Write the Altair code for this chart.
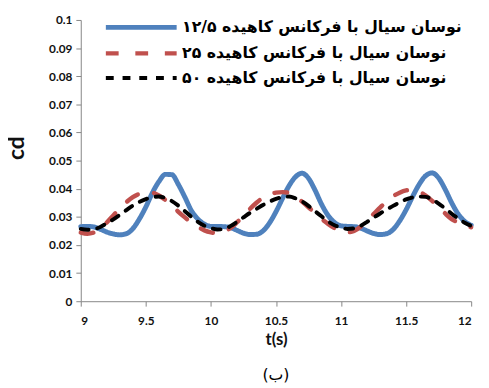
import altair as alt
import pandas as pd

t = [9.00, 9.05, 9.10, 9.15, 9.20, 9.25, 9.30, 9.35, 9.40, 9.45, 9.50, 9.55, 9.60, 9.65, 9.70, 9.75, 9.80, 9.85, 9.90, 9.95,
     10.00, 10.05, 10.10, 10.15, 10.20, 10.25, 10.30, 10.35, 10.40, 10.45, 10.50, 10.55, 10.60, 10.65, 10.70, 10.75, 10.80, 10.85, 10.90, 10.95,
     11.00, 11.05, 11.10, 11.15, 11.20, 11.25, 11.30, 11.35, 11.40, 11.45, 11.50, 11.55, 11.60, 11.65, 11.70, 11.75, 11.80, 11.85, 11.90, 11.95,
     12.00]

blue = [0.0265, 0.0266, 0.0264, 0.0256, 0.0246, 0.0239, 0.0236, 0.0240, 0.0258, 0.0292, 0.0335, 0.0385, 0.0425, 0.0451, 0.0450, 0.0415, 0.0370, 0.0322, 0.0292, 0.0274,
        0.0266, 0.0266, 0.0265, 0.0262, 0.0252, 0.0242, 0.0237, 0.0238, 0.0250, 0.0278, 0.0318, 0.0365, 0.0410, 0.0442, 0.0455, 0.0437, 0.0395, 0.0345, 0.0305, 0.0280,
        0.0268, 0.0266, 0.0265, 0.0260, 0.0250, 0.0241, 0.0237, 0.0240, 0.0255, 0.0285, 0.0325, 0.0372, 0.0415, 0.0446, 0.0456, 0.0438, 0.0398, 0.0350, 0.0310, 0.0284,
        0.0270]

red = [0.0244, 0.0240, 0.0244, 0.0258, 0.0280, 0.0305, 0.0330, 0.0352, 0.0370, 0.0382, 0.0388, 0.0386, 0.0376, 0.0360, 0.0340, 0.0318, 0.0298, 0.0280, 0.0264, 0.0252,
       0.0245, 0.0242, 0.0248, 0.0260, 0.0280, 0.0303, 0.0328, 0.0350, 0.0368, 0.0380, 0.0386, 0.0388, 0.0385, 0.0372, 0.0354, 0.0334, 0.0313, 0.0293, 0.0275, 0.0260,
       0.0250, 0.0245, 0.0250, 0.0265, 0.0288, 0.0310, 0.0333, 0.0355, 0.0373, 0.0386, 0.0394, 0.0396, 0.0390, 0.0376, 0.0357, 0.0335, 0.0312, 0.0292, 0.0280, 0.0270,
       0.0263]

black = [0.0257, 0.0254, 0.0256, 0.0264, 0.0277, 0.0291, 0.0307, 0.0324, 0.0340, 0.0353, 0.0363, 0.0370, 0.0372, 0.0367, 0.0356, 0.0340, 0.0320, 0.0300, 0.0282, 0.0268,
         0.0260, 0.0255, 0.0257, 0.0267, 0.0282, 0.0298, 0.0314, 0.0328, 0.0342, 0.0354, 0.0364, 0.0370, 0.0372, 0.0366, 0.0355, 0.0339, 0.0320, 0.0302, 0.0284, 0.0270,
         0.0262, 0.0257, 0.0259, 0.0268, 0.0282, 0.0297, 0.0312, 0.0326, 0.0339, 0.0351, 0.0362, 0.0369, 0.0372, 0.0371, 0.0362, 0.0347, 0.0330, 0.0311, 0.0294, 0.0279,
         0.0268]

names = ["نوسان سیال با فرکانس کاهیده ۱۲/۵",
         "نوسان سیال با فرکانس کاهیده ۲۵",
         "نوسان سیال با فرکانس کاهیده ۵۰"]
colors = ["#4F81BD", "#C0504D", "#000000"]
dashes = [[1, 0], [13, 17], [8, 9]]
widths = [5, 4, 4]

x_ticks = [9, 9.5, 10, 10.5, 11, 11.5, 12]
y_ticks = [0, 0.01, 0.02, 0.03, 0.04, 0.05, 0.06, 0.07, 0.08, 0.09, 0.1]

rows = []
for name, vals in zip(names, [blue, red, black]):
    for ti, v in zip(t, vals):
        rows.append({"t": ti, "cd": v, "s": name})
df = pd.DataFrame(rows)

base = alt.Chart(df).mark_line(interpolate="monotone", strokeCap="round").encode(
    x=alt.X("t:Q", scale=alt.Scale(domain=[9, 12], nice=False, zero=False),
            axis=alt.Axis(values=x_ticks, format="~g", title="t(s)", titleFontSize=17,
                          titleFont="Lato", titleFontWeight="bold", titleY=31, titleBaseline="top")),
    y=alt.Y("cd:Q", scale=alt.Scale(domain=[0, 0.1], nice=False),
            axis=alt.Axis(values=y_ticks, format="~g", title="cd", titleFontSize=23,
                          titleFont="Lato", titleFontWeight="bold", titleX=-53, titleY=130)),
    color=alt.Color("s:N", scale=alt.Scale(domain=names, range=colors),
                    legend=alt.Legend(title=None, orient="none", legendX=49, legendY=-5,
                                      symbolType="M-3.6,0H3.6", symbolSize=400, symbolStrokeWidth=4,
                                      labelFont="DejaVu Sans", labelFontWeight="bold", labelFontSize=16,
                                      labelLimit=400, rowPadding=3.5, padding=0, labelOffset=29)),
    strokeDash=alt.StrokeDash("s:N", scale=alt.Scale(domain=names, range=dashes), legend=None),
    strokeWidth=alt.StrokeWidth("s:N", scale=alt.Scale(domain=names, range=widths), legend=None),
)

layers = [base.transform_filter(alt.datum.s == n) for n in names]

chart = alt.layer(*layers).properties(
    width=397, height=286,
    autosize=alt.AutoSizeParams(type="none"),
    padding={"left": 74, "top": 9, "right": 10, "bottom": 80},
    title=alt.TitleParams("(ب)", orient="bottom", fontSize=16, fontWeight="normal",
                          font="DejaVu Sans", offset=20),
).configure_view(stroke=None).configure_axis(
    grid=False, domainColor="#868686", tickColor="#868686", tickSize=5,
    labelFont="Lato", labelFontWeight="bold", labelFontSize=12, labelColor="#111",
    titleColor="#111", labelPadding=4,
).configure_axisX(labelPadding=10)

chart.save("out.html", embed_options={"renderer": "svg", "actions": False})
